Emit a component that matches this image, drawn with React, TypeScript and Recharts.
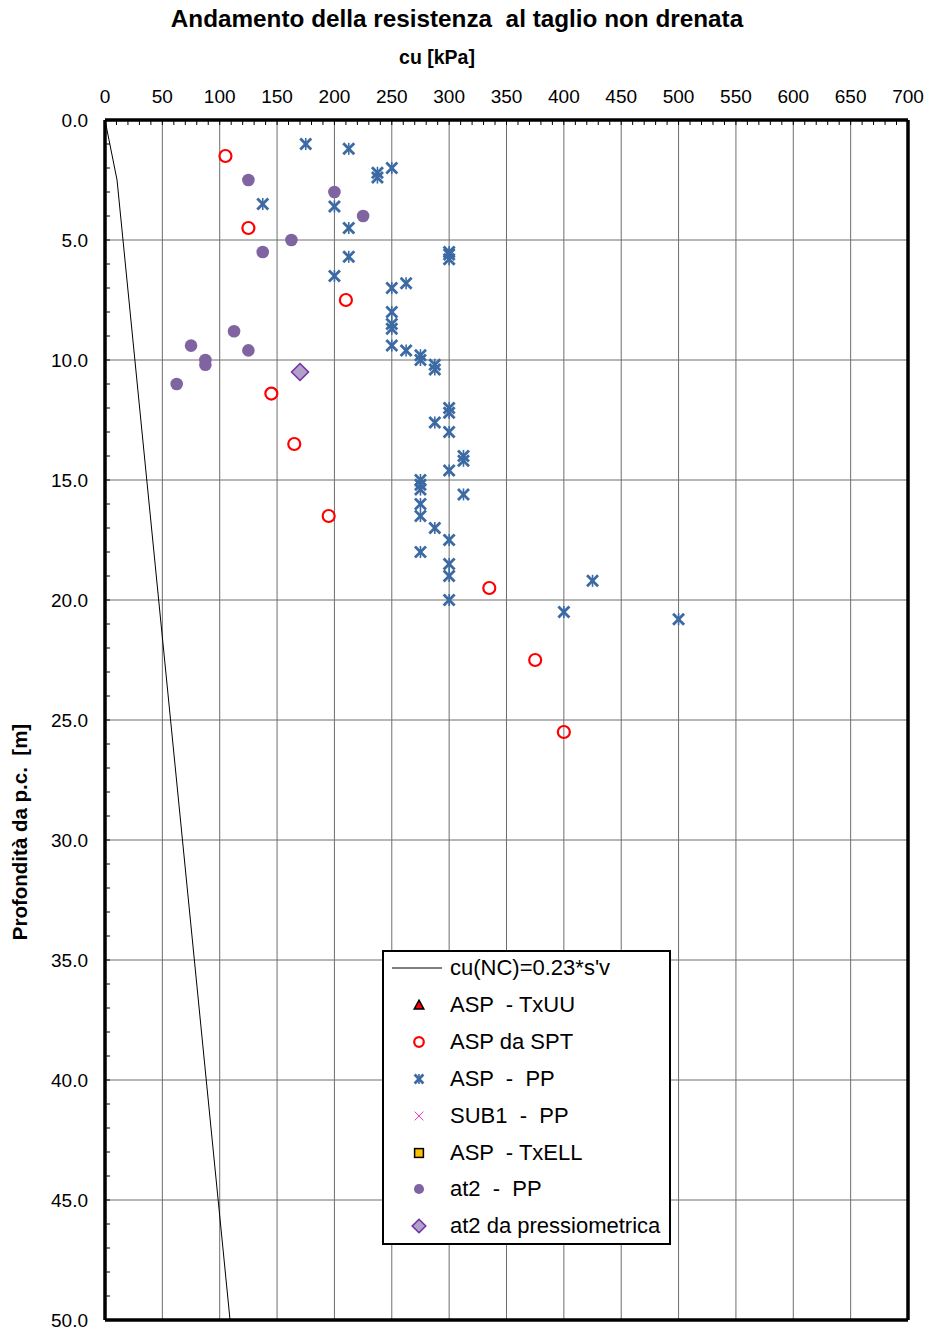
import React from 'react';
import { ScatterChart, Scatter, XAxis, YAxis, ReferenceLine } from 'recharts';

type Pt = { x: number; y: number };

// axis ticks (cu in kPa, depth in m)
const xMajorTicks = [0, 50, 100, 150, 200, 250, 300, 350, 400, 450, 500, 550, 600, 650, 700];
const xMinorTicks = Array.from({ length: 71 }, (_, i) => i * 10);
const yMajorTicks = [0, 5, 10, 15, 20, 25, 30, 35, 40, 45, 50];
const yMinorTicks = Array.from({ length: 51 }, (_, i) => i);

// cu(NC) = 0.23 * s'v
const ncLine: Pt[] = [
  { x: 0, y: 0 },
  { x: 10.5, y: 2.5 },
  { x: 109, y: 50 },
];

const aspTxuu: Pt[] = [];

const aspSpt: Pt[] = [
  { x: 105, y: 1.5 },
  { x: 125, y: 4.5 },
  { x: 210, y: 7.5 },
  { x: 145, y: 11.4 },
  { x: 165, y: 13.5 },
  { x: 195, y: 16.5 },
  { x: 335, y: 19.5 },
  { x: 375, y: 22.5 },
  { x: 400, y: 25.5 },
];

const aspPp: Pt[] = [
  { x: 175, y: 1.0 },
  { x: 212.5, y: 1.2 },
  { x: 250, y: 2.0 },
  { x: 237.5, y: 2.2 },
  { x: 237.5, y: 2.4 },
  { x: 137.5, y: 3.5 },
  { x: 200, y: 3.6 },
  { x: 212.5, y: 4.5 },
  { x: 300, y: 5.5 },
  { x: 300, y: 5.6 },
  { x: 300, y: 5.8 },
  { x: 212.5, y: 5.7 },
  { x: 200, y: 6.5 },
  { x: 262.5, y: 6.8 },
  { x: 250, y: 7.0 },
  { x: 250, y: 8.0 },
  { x: 250, y: 8.5 },
  { x: 250, y: 8.7 },
  { x: 250, y: 9.4 },
  { x: 262.5, y: 9.6 },
  { x: 275, y: 9.8 },
  { x: 275, y: 10.0 },
  { x: 287.5, y: 10.2 },
  { x: 287.5, y: 10.4 },
  { x: 300, y: 12.0 },
  { x: 300, y: 12.2 },
  { x: 287.5, y: 12.6 },
  { x: 300, y: 13.0 },
  { x: 312.5, y: 14.0 },
  { x: 312.5, y: 14.2 },
  { x: 300, y: 14.6 },
  { x: 275, y: 15.0 },
  { x: 275, y: 15.2 },
  { x: 275, y: 15.4 },
  { x: 312.5, y: 15.6 },
  { x: 275, y: 16.0 },
  { x: 275, y: 16.5 },
  { x: 287.5, y: 17.0 },
  { x: 300, y: 17.5 },
  { x: 275, y: 18.0 },
  { x: 300, y: 18.5 },
  { x: 300, y: 19.0 },
  { x: 425, y: 19.2 },
  { x: 300, y: 20.0 },
  { x: 400, y: 20.5 },
  { x: 500, y: 20.8 },
];

const sub1Pp: Pt[] = [];
const aspTxell: Pt[] = [];

const at2Pp: Pt[] = [
  { x: 125, y: 2.5 },
  { x: 200, y: 3.0 },
  { x: 225, y: 4.0 },
  { x: 162.5, y: 5.0 },
  { x: 137.5, y: 5.5 },
  { x: 112.5, y: 8.8 },
  { x: 75, y: 9.4 },
  { x: 125, y: 9.6 },
  { x: 87.5, y: 10.0 },
  { x: 87.5, y: 10.2 },
  { x: 62.5, y: 11.0 },
];

const at2Press: Pt[] = [{ x: 170, y: 10.5 }];

const W = 928;
const H = 1330;
const PLOT_LEFT = 105;
const PLOT_TOP = 120;
const FONT = "'Liberation Sans', Arial, sans-serif";

const RED = '#FF0000';
const BLUE = '#3C6AA3';
const PURPLE = '#8064A2';

// ---- marker symbols (k scales the symbol, legend uses smaller ones) ----
const Triangle = ({ cx, cy, k = 1 }: any) => (
  <polygon
    points={`${cx},${cy - 6 * k} ${cx + 6 * k},${cy + 5 * k} ${cx - 6 * k},${cy + 5 * k}`}
    fill={RED}
    stroke="#000"
    strokeWidth={1.5}
  />
);
const OpenCircle = ({ cx, cy, k = 1 }: any) => (
  <circle cx={cx} cy={cy} r={6 * k} fill="none" stroke={RED} strokeWidth={2.2} />
);
const Star = ({ cx, cy, k = 1 }: any) => {
  const d = 5.5 * k;
  return (
    <g stroke={BLUE} strokeWidth={2.8}>
      <line x1={cx - d} y1={cy - d} x2={cx + d} y2={cy + d} />
      <line x1={cx - d} y1={cy + d} x2={cx + d} y2={cy - d} />
      <line x1={cx} y1={cy - d - 0.5} x2={cx} y2={cy + d + 0.5} strokeWidth={1.6} />
    </g>
  );
};
const Cross = ({ cx, cy, k = 1 }: any) => (
  <g stroke="#FF33CC" strokeWidth={1}>
    <line x1={cx - 5.5 * k} y1={cy - 5.5 * k} x2={cx + 5.5 * k} y2={cy + 5.5 * k} />
    <line x1={cx - 5.5 * k} y1={cy + 5.5 * k} x2={cx + 5.5 * k} y2={cy - 5.5 * k} />
  </g>
);
const Square = ({ cx, cy, k = 1 }: any) => (
  <rect x={cx - 5.5 * k} y={cy - 5.5 * k} width={11 * k} height={11 * k} fill="#FFC000" stroke="#000" strokeWidth={1.5} />
);
const Dot = ({ cx, cy, k = 1 }: any) => <circle cx={cx} cy={cy} r={6.3 * k} fill={PURPLE} />;
const Diamond = ({ cx, cy, k = 1 }: any) => {
  const d = 8.5 * k;
  return (
    <polygon
      points={`${cx},${cy - d} ${cx + d},${cy} ${cx},${cy + d} ${cx - d},${cy}`}
      fill="#B1A0C7"
      stroke="#7030A0"
      strokeWidth={1.5}
    />
  );
};
const NoMarker = () => <g />;

const series = [
  { name: 'ASP  - TxUU', data: aspTxuu, Shape: Triangle },
  { name: 'ASP da SPT', data: aspSpt, Shape: OpenCircle },
  { name: 'ASP  -  PP', data: aspPp, Shape: Star },
  { name: 'SUB1  -  PP', data: sub1Pp, Shape: Cross },
  { name: 'ASP  - TxELL', data: aspTxell, Shape: Square },
  { name: 'at2  -  PP', data: at2Pp, Shape: Dot },
  { name: 'at2 da pressiometrica', data: at2Press, Shape: Diamond },
];

// ---- axis ticks drawn inside the frame ----
const XTick = ({ x, payload }: any) => {
  const v = payload.value;
  const major = v % 50 === 0;
  return (
    <g>
      <line x1={x} y1={PLOT_TOP} x2={x} y2={PLOT_TOP + 5} stroke="#000" strokeWidth={1} />
      {major && (
        <text x={x} y={96} textAnchor="middle" dominantBaseline="central" fontSize={19} fontFamily={FONT} fill="#000">
          {v}
        </text>
      )}
    </g>
  );
};

const YTick = ({ y, payload }: any) => {
  const v = payload.value;
  const major = v % 5 === 0;
  return (
    <g>
      <line x1={PLOT_LEFT} y1={y} x2={PLOT_LEFT + 5} y2={y} stroke="#000" strokeWidth={1} />
      {major && (
        <text x={88} y={y} textAnchor="end" dominantBaseline="central" fontSize={19} fontFamily={FONT} fill="#000">
          {v.toFixed(1)}
        </text>
      )}
    </g>
  );
};

const LegendBox = () => {
  const rowH = 36.9;
  return (
    <div
      style={{
        position: 'absolute',
        left: 382,
        top: 950,
        width: 289,
        height: 295,
        border: '2px solid #000',
        boxSizing: 'border-box',
        background: '#fff',
        fontFamily: FONT,
        fontSize: 22,
      }}
    >
      {[{ name: "cu(NC)=0.23*s'v", Shape: null as any }, ...series].map((s, i) => {
        const top = 16 + i * rowH - 18;
        return (
          <div key={s.name} style={{ position: 'absolute', left: 0, top, height: 36, width: '100%' }}>
            <svg width={62} height={36} style={{ position: 'absolute', left: 0, top: 0 }}>
              {s.Shape ? (
                <s.Shape cx={35} cy={18} k={0.8} />
              ) : (
                <line x1={8} y1={18} x2={58} y2={18} stroke="#000" strokeWidth={1} />
              )}
            </svg>
            <span style={{ position: 'absolute', left: 66, top: 0, lineHeight: '36px', whiteSpace: 'pre' }}>{s.name}</span>
          </div>
        );
      })}
    </div>
  );
};

export default function App() {
  return (
    <div style={{ position: 'absolute', left: 0, top: 0, width: W, height: H, background: '#fff' }}>
      <div
        style={{
          position: 'absolute',
          left: 57,
          width: 800,
          top: 7,
          textAlign: 'center',
          fontFamily: FONT,
          fontWeight: 'bold',
          fontSize: 24.3,
          lineHeight: '24px',
          whiteSpace: 'pre',
        }}
      >
        Andamento della resistenza  al taglio non drenata
      </div>
      <div
        style={{
          position: 'absolute',
          left: 337,
          width: 200,
          top: 46,
          textAlign: 'center',
          fontFamily: FONT,
          fontWeight: 'bold',
          fontSize: 19.5,
          lineHeight: '22px',
        }}
      >
        cu [kPa]
      </div>
      <div
        style={{
          position: 'absolute',
          left: 20,
          top: 832,
          transform: 'translate(-50%, -50%) rotate(-90deg)',
          fontFamily: FONT,
          fontWeight: 'bold',
          fontSize: 20.5,
          whiteSpace: 'pre',
        }}
      >
        Profondità da p.c.  [m]
      </div>

      <ScatterChart width={W} height={H} margin={{ top: 90, right: 20, bottom: 10, left: 45 }}>
        <XAxis
          type="number"
          dataKey="x"
          orientation="top"
          height={30}
          domain={[0, 700]}
          ticks={xMinorTicks}
          interval={0}
          axisLine={false}
          tickLine={false}
          tick={<XTick />}
          allowDataOverflow
        />
        <YAxis
          type="number"
          dataKey="y"
          width={60}
          reversed
          domain={[0, 50]}
          ticks={yMinorTicks}
          interval={0}
          axisLine={false}
          tickLine={false}
          tick={<YTick />}
          allowDataOverflow
        />
        {xMajorTicks.slice(1, -1).map((v) => (
          <ReferenceLine key={`gx${v}`} x={v} stroke="#6e6e6e" strokeWidth={1} />
        ))}
        {yMajorTicks.slice(1, -1).map((v) => (
          <ReferenceLine key={`gy${v}`} y={v} stroke="#6e6e6e" strokeWidth={1} />
        ))}

        <Scatter
          name="cu(NC)=0.23*s'v"
          data={ncLine}
          line={{ stroke: '#000', strokeWidth: 1 }}
          shape={<NoMarker />}
          isAnimationActive={false}
        />
        {series.map((s) => (
          <Scatter
            key={s.name}
            name={s.name}
            data={s.data}
            shape={<s.Shape />}
            isAnimationActive={false}
          />
        ))}

        <ReferenceLine x={0} stroke="#000" strokeWidth={3.5} />
        <ReferenceLine x={700} stroke="#000" strokeWidth={3.5} />
        <ReferenceLine y={0} stroke="#000" strokeWidth={3.5} />
        <ReferenceLine y={50} stroke="#000" strokeWidth={3.5} />
      </ScatterChart>

      <LegendBox />
    </div>
  );
}
